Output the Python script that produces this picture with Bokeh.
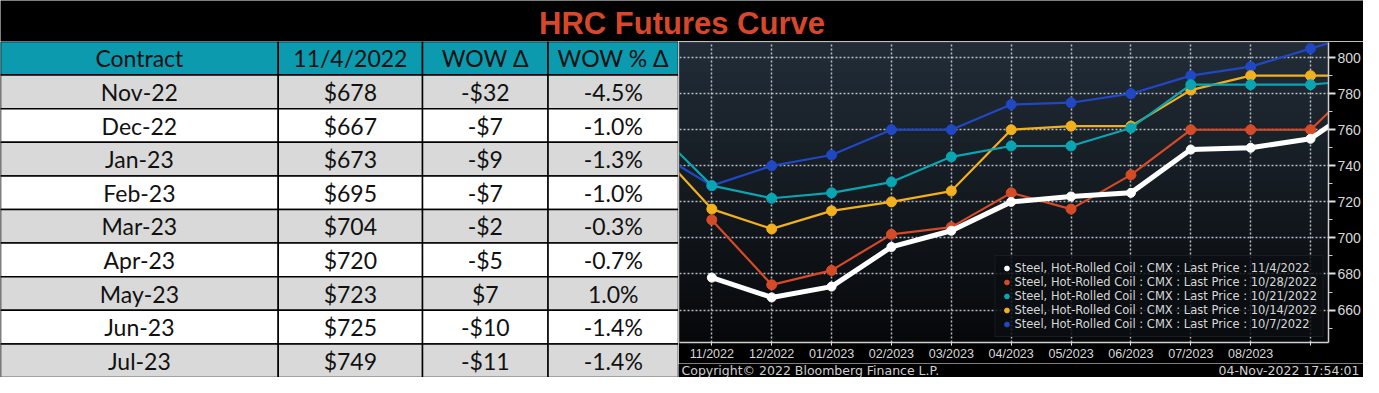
import math
from bokeh.plotting import figure
from bokeh.layouts import column, row
from bokeh.models import (Range1d, FixedTicker, Legend, LegendItem,
                          BoxAnnotation, ColumnDataSource)
from bokeh.core.properties import value
from bokeh.embed import file_html
from bokeh.resources import INLINE

# ---------------- data ----------------
title_text = "HRC Futures Curve"
headers = ["Contract", "11/4/2022", "WOW \u0394", "WOW % \u0394"]
contracts = ["Nov-22", "Dec-22", "Jan-23", "Feb-23", "Mar-23", "Apr-23", "May-23", "Jun-23", "Jul-23"]
prices = [678, 667, 673, 695, 704, 720, 723, 725, 749]
wow_change = [-32, -7, -9, -7, -2, -5, 7, -10, -11]
wow_pct = [-4.5, -1.0, -1.3, -1.0, -0.3, -0.7, 1.0, -1.4, -1.4]

# curve months (index 0 = 11/2022); -1 = 10/2022, 11 = 10/2023
month_idx = [-1, 0, 1, 2, 3, 4, 5, 6, 7, 8, 9, 10, 11]
month_labels = ["11/2022", "12/2022", "01/2023", "02/2023", "03/2023", "04/2023",
                "05/2023", "06/2023", "07/2023", "08/2023", ""]
nan = float("nan")
curve_1104 = [nan, 678, 667, 673, 695, 704, 720, 723, 725, 749, 750, 755, 778]
curve_1028 = [nan, 710, 674, 682, 702, 706, 725, 716, 735, 760, 760, 760, 792]
curve_1021 = [762, 729, 722, 725, 731, 745, 751, 751, 761, 785, 785, 785, 788]
curve_1014 = [752, 716, 705, 715, 720, 726, 760, 762, 762, 782, 790, 790, 790]
curve_1007 = [749, 729, 740, 746, 760, 760, 774, 775, 780, 790, 795, 805, 815]
series_dates = ["11/4/2022", "10/28/2022", "10/21/2022", "10/14/2022", "10/7/2022"]
y_ticks = [660, 680, 700, 720, 740, 760, 780, 800]
y_minor = [650, 670, 690, 710, 730, 750, 770, 790]
copyright_text = "Copyright\u00a9 2022 Bloomberg Finance L.P."
stamp_text = "04-Nov-2022 17:54:01"

# ---------------- sizes ----------------
W, H = 1363, 377
TITLE_H = 41
BODY_H = H - TITLE_H
TABLE_W = 678
CHART_W = W - TABLE_W
FOOT_H = 14

# ---------------- title band ----------------
tf = figure(width=W, height=TITLE_H, x_range=Range1d(0, 1), y_range=Range1d(0, 1),
            output_backend="svg", toolbar_location=None, min_border=0,
            background_fill_color="black", border_fill_color="black")
tf.axis.visible = False
tf.grid.visible = False
tf.outline_line_color = None
tf.text(x=[0.5], y=[0.45], text=[title_text], text_align="center", text_baseline="middle",
        text_font=value("Liberation Sans"), text_font_style="bold",
        text_font_size="31px", text_color="#D8472A")

# ---------------- table ----------------
col_edges = [0, 281, 427, 554, 686]
tb = figure(width=TABLE_W, height=BODY_H, x_range=Range1d(0, 686), y_range=Range1d(9.5, -0.5),
            output_backend="svg", toolbar_location=None, min_border=0,
            background_fill_color="white", border_fill_color="white")
tb.axis.visible = False
tb.grid.visible = False
tb.outline_line_color = None

def fmt_money(v):
    return ("-$%d" % abs(v)) if v < 0 else ("$%d" % v)

def fmt_pct(v):
    return "%.1f%%" % v

cells = [headers] + [[c, fmt_money(p), fmt_money(w), fmt_pct(q)]
                     for c, p, w, q in zip(contracts, prices, wow_change, wow_pct)]
cx, cy, cw, cfill, ctext = [], [], [], [], []
for r, rowvals in enumerate(cells):
    for c in range(4):
        x0, x1 = col_edges[c], col_edges[c + 1]
        cx.append((x0 + x1) / 2)
        cy.append(r)
        cw.append(x1 - x0)
        if r == 0:
            cfill.append("#0B9AAE")
        elif r % 2 == 1:
            cfill.append("#D9D9D9")
        else:
            cfill.append("#FFFFFF")
        ctext.append(rowvals[c])
src = ColumnDataSource(dict(x=cx, y=cy, w=cw, fill=cfill, text=ctext))
tb.rect(x="x", y="y", width="w", height=1, fill_color="fill", line_color="black",
        line_width=1.5, source=src)
tb.text(x="x", y="y", text="text", text_align="center", text_baseline="middle",
        text_font=value("Lato"), text_font_size="23px", text_color="#111111", source=src)

# ---------------- chart ----------------
p = figure(width=CHART_W, height=BODY_H - FOOT_H, x_range=Range1d(-0.54, 10.3),
           y_range=Range1d(642, 808.4), y_axis_location="right",
           output_backend="svg", toolbar_location=None,
           background_fill_color="#141a20", border_fill_color="black",
           min_border_left=1, min_border_top=1, min_border_right=34, min_border_bottom=16)
p.outline_line_color = None

# vertical gradient background
top_c = (0x21, 0x2c, 0x37)
bot_c = (0x07, 0x08, 0x0a)
n_str = 30
y0, y1 = 642, 808.4
for i in range(n_str):
    t = i / (n_str - 1)
    col = tuple(int(round(bot_c[k] + (top_c[k] - bot_c[k]) * t)) for k in range(3))
    b = y0 + (y1 - y0) * i / n_str
    tp = y0 + (y1 - y0) * (i + 1) / n_str + 0.3
    p.add_layout(BoxAnnotation(bottom=b, top=tp, fill_color="#%02x%02x%02x" % col,
                               fill_alpha=1.0, line_alpha=0, level="image"))

grid_col = "#c9ced4"
p.xaxis.ticker = FixedTicker(ticks=list(range(len(month_labels))))
p.xaxis.major_label_overrides = {i: lab for i, lab in enumerate(month_labels)}
p.xgrid.ticker = FixedTicker(ticks=list(range(len(month_labels))))
p.yaxis.ticker = FixedTicker(ticks=y_ticks, minor_ticks=y_minor)
p.ygrid.ticker = FixedTicker(ticks=y_ticks)
p.grid.grid_line_color = grid_col
p.grid.grid_line_dash = "2 2"
p.grid.grid_line_width = 1.5
p.grid.grid_line_alpha = 0.9

for ax in (p.xaxis, p.yaxis):
    ax.axis_line_color = "#d0d0d0"
    ax.axis_line_width = 1.5
    ax.major_tick_line_color = "#e0e0e0"
    ax.minor_tick_line_color = "#d0d0d0"
    ax.major_tick_in = 0
    ax.minor_tick_in = 0
    ax.major_label_text_color = "#d8d8d8"
    ax.major_label_text_font = "Liberation Sans"
p.xaxis.major_tick_out = 3
p.xaxis.minor_tick_out = 0
p.xaxis.major_label_text_font_size = "12.5px"
p.xaxis.major_label_standoff = 1
p.yaxis.major_tick_out = 7
p.yaxis.major_tick_line_width = 2
p.yaxis.minor_tick_out = 4
p.yaxis.major_label_text_font_size = "14px"
p.yaxis.major_label_standoff = 2

series = [
    (curve_1007, "#2047C4", 2.2, 10),
    (curve_1014, "#F2B01E", 2.2, 10),
    (curve_1021, "#0AA5B2", 2.2, 10),
    (curve_1028, "#D54A27", 2.2, 10),
    (curve_1104, "#FFFFFF", 5, 9),
]
scatter_rs = []
for vals, colr, lw, sz in series:
    p.line(month_idx, vals, line_color=colr, line_width=lw)
    sr = p.scatter(month_idx, vals, marker="circle", size=sz, fill_color=colr, line_color=colr)
    scatter_rs.append(sr)
scatter_rs = scatter_rs[::-1]  # legend order: 11/4 first

items = [LegendItem(label="Steel, Hot-Rolled Coil : CMX : Last Price : " + d, renderers=[r])
         for d, r in zip(series_dates, scatter_rs)]
legend = Legend(items=items, location="bottom_right",
                background_fill_color="#0b0e12", background_fill_alpha=0.85,
                border_line_color="#262b31", border_line_width=1,
                label_text_color="#d8d8d8", label_text_font="DejaVu Sans",
                label_text_font_size="11.5px", glyph_width=12, glyph_height=14,
                label_height=13, spacing=0, padding=5, margin=5, label_standoff=2)
p.add_layout(legend)

# footer with copyright and timestamp
ft = figure(width=CHART_W, height=FOOT_H, x_range=Range1d(0, CHART_W), y_range=Range1d(0, 1),
            output_backend="svg", toolbar_location=None, min_border=0,
            background_fill_color="black", border_fill_color="black")
ft.axis.visible = False
ft.grid.visible = False
ft.outline_line_color = None
ft.text(x=[3], y=[0.5], text=[copyright_text], text_align="left", text_baseline="middle",
        text_font=value("DejaVu Sans"), text_font_size="12.5px", text_color="#d0d0d0")
ft.text(x=[CHART_W - 4], y=[0.5], text=[stamp_text], text_align="right", text_baseline="middle",
        text_font=value("DejaVu Sans"), text_font_size="12.5px", text_color="#d0d0d0")

layout = column(tf, row(tb, column(row(p), row(ft))))
open("out.html", "w").write(file_html(layout, INLINE))
